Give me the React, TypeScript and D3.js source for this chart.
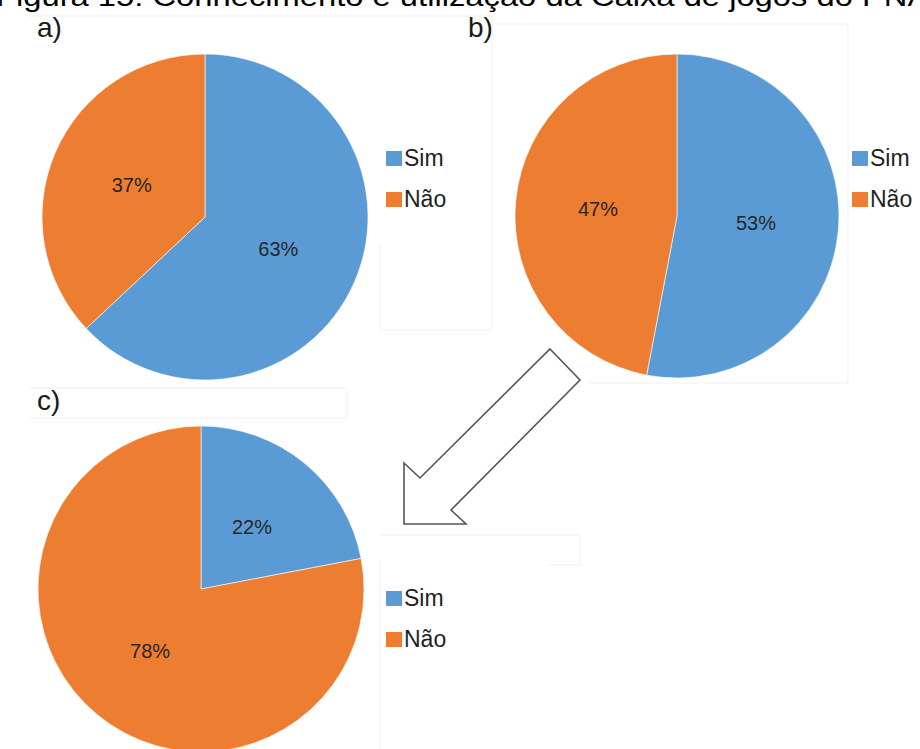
import React from "react";
import * as d3 from "d3";

const categories = ["Sim", "Não"];
const valuesA = [63, 37];
const valuesB = [53, 47];
const valuesC = [22, 78];
const panelLabels = ["a)", "b)", "c)"];
const titleText = "Figura 15: Conhecimento e utilização da Caixa de jogos do PNAIC";

const colors = ["#5B9BD5", "#ED7D31"];
const FONT = "'Liberation Sans', Arial, Helvetica, sans-serif";

type PieProps = { values: number[]; cx: number; cy: number; r: number };

function Pie({ values, cx, cy, r }: PieProps) {
  const pie = d3.pie<number>().sort(null).value((d) => d);
  const arcs = pie(values);
  const arc = d3.arc<d3.PieArcDatum<number>>().innerRadius(0).outerRadius(r);
  const labelArc = d3.arc<d3.PieArcDatum<number>>().innerRadius(r * 0.49).outerRadius(r * 0.49);
  return (
    <g transform={`translate(${cx},${cy})`}>
      {arcs.map((a, i) => (
        <path key={i} d={arc(a) || ""} fill={colors[i]} stroke="#ffffff" strokeWidth={0.6} />
      ))}
      {arcs.map((a, i) => {
        const [x, y] = labelArc.centroid(a);
        return (
          <text
            key={"t" + i}
            x={x}
            y={y}
            textAnchor="middle"
            dominantBaseline="central"
            fontFamily={FONT}
            fontSize={20}
            fill="#262626"
          >
            {`${values[i]}%`}
          </text>
        );
      })}
    </g>
  );
}

function Legend({ x, y }: { x: number; y: number }) {
  return (
    <g transform={`translate(${x},${y})`}>
      {categories.map((c, i) => (
        <g key={c} transform={`translate(0,${i * 41})`}>
          <rect x={0} y={-15} width={16} height={15} fill={colors[i]} />
          <text x={18} y={0} fontFamily={FONT} fontSize={23} fill="#1f1f1f">
            {c}
          </text>
        </g>
      ))}
    </g>
  );
}

export default function App() {
  const faint = "#f0f0f0";
  return (
    <svg
      width={920}
      height={749}
      style={{ position: "absolute", left: 0, top: 0, background: "#fff" }}
    >
      <rect x={0} y={0} width={920} height={749} fill="#fff" />
      {/* faint chart frames */}
      <g fill="none" stroke={faint} strokeWidth={1}>
        <path d="M28,16 H492 V330 H380 V245" />
        <path d="M493,24 H848 V383 H590" />
        <path d="M30,388 H347 V418 H30" />
        <path d="M380,749 V560 M380,535 H580 V565 H548" />
      </g>
      <text
        x={-4}
        y={6}
        fontFamily={FONT}
        fontSize={28}
        fill="#000"
        textLength={966}
        lengthAdjust="spacingAndGlyphs"
      >
        {titleText}
      </text>
      <text x={37} y={37} fontFamily={FONT} fontSize={28} fill="#1a1a1a">
        {panelLabels[0]}
      </text>
      <text x={468} y={37} fontFamily={FONT} fontSize={28} fill="#1a1a1a">
        {panelLabels[1]}
      </text>
      <text x={37} y={410} fontFamily={FONT} fontSize={28} fill="#1a1a1a">
        {panelLabels[2]}
      </text>

      <Pie values={valuesA} cx={205} cy={217} r={163} />
      <Pie values={valuesB} cx={677} cy={216} r={162} />
      <Pie values={valuesC} cx={201} cy={589} r={163} />

      <Legend x={386} y={166} />
      <Legend x={852} y={166} />
      <Legend x={386} y={606} />

      {/* hollow arrow */}
      <path
        d="M550,349 L580,380 L451,510 L466,524 L404,524 L404,463 L420,478 Z"
        fill="#ffffff"
        stroke="#555555"
        strokeWidth={1.6}
        strokeLinejoin="miter"
      />
    </svg>
  );
}
